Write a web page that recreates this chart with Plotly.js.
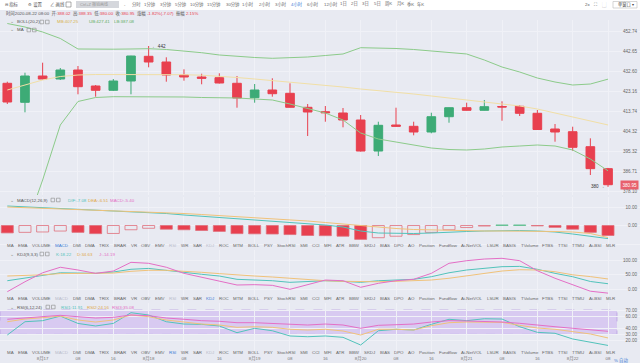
<!DOCTYPE html>
<html><head><meta charset="utf-8">
<script src="https://cdn.plot.ly/plotly-3.0.1.min.js"></script>
<style>html,body{margin:0;padding:0;background:#fff}#chart{width:640px;height:363px}</style>
</head><body><div id="chart"></div>
<script>
// ---- data (4h candles, 2020-08-16 16:00 .. 2020-08-22 08:00) ----
const opens  = [425.59,417.22,428.80,427.48,431.44,424.40,422.51,426.60,437.47,434.96,429.24,428.36,428.05,425.59,419.25,422.64,421.18,415.02,413.08,412.51,409.43,395.78,407.23,406.66,404.15,410.88,414.85,413.70,415.37,415.46,412.38,405.47,404.28,397.68,388.02];
const highs  = [426.29,430.25,434.66,432.32,433.20,424.84,427.48,437.70,442.00,437.03,431.75,429.80,429.99,428.80,425.28,427.79,425.59,416.47,415.59,414.71,411.63,408.68,414.85,408.68,412.64,414.93,417.05,418.24,417.66,415.90,413.83,407.67,406.48,401.37,388.35];
const lows   = [416.47,412.82,427.26,427.04,420.74,419.69,422.20,420.74,432.63,426.29,426.73,425.15,425.50,414.85,417.05,419.69,414.93,402.39,408.68,406.22,395.56,393.58,406.57,402.70,403.58,408.24,413.61,413.61,409.12,411.19,405.03,399.88,395.92,385.22,380.00];
const closes = [417.35,428.80,427.48,431.44,424.09,422.51,426.60,437.60,434.96,429.24,428.36,427.79,425.72,419.12,422.64,421.01,415.02,412.95,412.64,409.43,395.78,407.10,406.66,404.15,410.88,414.85,413.70,415.29,415.15,412.38,405.25,404.15,397.41,388.02,380.95];
const bollUp  = [451.91,450.37,448.17,445.31,440.69,440.55,440.60,440.69,440.82,440.47,439.81,439.06,438.05,437.39,436.95,436.59,436.72,437.16,437.82,438.49,441.26,441.13,440.91,440.47,439.81,439.15,438.49,435.84,432.76,430.56,427.92,426.16,424.84,425.28,427.41];
const bollMid = [422.64,424.84,427.04,428.58,429.24,429.46,429.46,429.68,429.68,429.55,429.37,429.15,428.80,428.14,427.48,426.82,426.16,425.50,424.84,423.96,423.08,422.42,421.76,420.88,420.00,419.12,418.24,417.35,416.47,415.59,414.27,412.51,410.75,408.99,407.25];
const bollLow = [334.60,361.01,383.02,407.23,417.58,419.34,419.69,419.69,419.69,419.56,419.56,419.34,419.25,419.12,418.68,418.24,416.47,414.58,412.51,409.43,403.71,401.07,399.75,398.43,397.11,396.45,396.23,396.67,397.55,397.99,398.43,397.99,396.23,392.27,387.08];
const macdDif  = [10.54,10.11,9.68,9.24,8.81,8.38,7.84,7.41,7.03,6.49,5.68,5.03,4.38,3.73,3.08,2.43,1.73,1.08,0.27,-0.81,-2.97,-4.05,-4.32,-4.32,-4.05,-3.51,-3.24,-2.97,-2.70,-2.70,-2.97,-3.51,-4.59,-5.68,-7.08];
const macdDea  = [10.00,9.68,9.35,9.03,8.70,8.38,8.00,7.62,7.24,6.86,6.49,5.95,5.41,4.86,4.32,3.78,3.14,2.43,1.62,0.81,-0.27,-1.08,-1.62,-2.16,-2.43,-2.70,-2.97,-2.97,-2.97,-2.97,-2.97,-3.24,-3.51,-4.32,-6.51];
const macdHist = [-4.0,-3.7,-3.5,-3.0,-3.7,-4.4,-4.3,-2.3,-1.5,-2.0,-2.3,-2.7,-3.2,-4.4,-4.5,-4.6,-4.9,-5.4,-5.5,-5.8,-7.5,-6.6,-5.8,-4.9,-3.7,-2.3,-1.1,-0.3,0.3,0.3,-0.2,-1.0,-2.0,-3.7,-5.4];
const kdjK = [28.6,37,48,56,55,54,58.6,68,71,65.5,57.6,50.7,44.8,33.4,32,28.6,23,26.5,28.6,26.5,23,28.6,31,33.4,42.4,56,65.5,72.4,77,78,68,54,42.4,26,18.22];
const kdjD = [44.8,46,49,53,54,54,55,61,64.5,64.5,62,57.6,53,48,44.8,41.4,37,32,28.6,26.5,25,25,26.5,27.6,31,37,46,54,62,66.5,65.5,59.6,49,42.8,34.63];
const kdjJ = [-9.3,25,56,75,65.5,54,62,92,88.6,75,54,40,28.6,13.8,15,12.7,-1,13.8,31,28.6,5.9,19.7,28.6,33.4,54,88.6,97.6,103.4,105.9,97.6,63,37,13.8,-7.6,-14.19];
const rsi1 = [29,50.8,52.5,60,48,43.8,48,65.6,61.8,50.8,47,46.5,43.8,32.8,40,36,27.4,26.2,27.4,25.2,12.6,36,38.4,37.2,46.5,54.8,52.5,55.7,55.2,42.6,33.4,31.8,22.5,17,11.91];
const rsi2 = [50.8,55.2,57.4,60,53.6,50.3,53.6,61.8,59,53.6,50.3,47,45.4,41.6,42.6,41.6,38.4,37.2,38.4,35.6,29,38.4,38.4,37.2,44.3,49.2,50.3,50.3,49.8,44.9,40.5,38.4,34.4,30.7,24.16];
const rsi3 = [54.8,56.9,59,61.3,59,56.9,58,61.8,60.7,56.9,54.8,52.5,51.5,49.2,49.2,48.2,46.6,45.4,47,45.4,40,44.9,45.9,47,50.3,52.5,52,51.5,50.3,48.2,44.9,42.6,40,37.2,35.08];
const dateTicks  = ['8月17','08','16','8月18','08','16','8月19','08','16','8月20','08','16','8月21','08','16','8月22','08'];
const priceTicks = ['452.74','442.65','432.60','423.16','413.74','404.32','395.32','386.71','378.10'];
const macdTicks = ['10.00','0.00','-10.00'];
const kdjTicks  = ['100.00','50.00','0.00'];
const rsiTicks  = ['70.00','60.00','40.00','30.00','20.00','0.00'];
const indicatorTabs = ['MA','EMA','VOLUME','MACD','DMI','DMA','TRIX','BRAR','VR','OBV','EMV','RSI','WR','SAR','KDJ','ROC','MTM','BOLL','PSY','StochRSI','SMI','CCI','MFI','ATR','BBW','SKDJ','BIAS','DPO','AO','Position','Fundflow','Ai-NetVOL','LSUR','BASIS','TVolume','FTBS','TTSI','TTMU','Ai-BSI','MLR'];
const periods = ['分时','1分钟','3分钟','5分钟','10分钟','15分钟','30分钟','1小时','2小时','3小时','4小时','6小时','12小时','1日','2日','3日','5日','周K','月K','季K','年K'];

// ---- drawing ----
const W = 640, H = 363;
const FONT = 'Liberation Sans, Noto Sans CJK SC, sans-serif';
const RED = '#e8404f', GREEN = '#3dab76';
const C_TEAL = '#52c3bb', C_YEL = '#f0c27a', C_PINK = '#e46fc6';
const BG = '#e8eaf2', GRID = '#f0f1f7';
const idx = opens.map((_, i) => i);
const py = p => 1 - p / H;
const dom = (top, bot) => [py(bot), py(top)];

const traces = [];
traces.push({type:'candlestick', x: idx, open: opens, high: highs, low: lows, close: closes,
  xaxis:'x', yaxis:'y', whiskerwidth:0, hoverinfo:'skip',
  increasing:{line:{color:GREEN,width:1}, fillcolor:GREEN},
  decreasing:{line:{color:RED,width:1}, fillcolor:RED}});
traces.push({type:'scatter', mode:'lines', x: idx, y: bollUp, yaxis:'y', line:{color:'#8ccb8a', width:1}, hoverinfo:'skip'});
traces.push({type:'scatter', mode:'lines', x: idx, y: bollMid, yaxis:'y', line:{color:'#f1dfa6', width:1}, hoverinfo:'skip'});
traces.push({type:'scatter', mode:'lines', x: idx, y: bollLow, yaxis:'y', line:{color:'#8ccb8a', width:1}, hoverinfo:'skip'});

const histFill = macdHist.map((v, i) => {
  const prev = i ? macdHist[i-1] : 0;
  if (v >= 0) return '#5fbf8f';
  return v < prev || i === 0 ? RED : 'rgba(0,0,0,0)';
});
const histLine = macdHist.map(v => v >= 0 ? '#5fbf8f' : '#e0707c');
traces.push({type:'bar', x: idx, y: macdHist, yaxis:'y2', width:0.68,
  marker:{color: histFill, line:{color: histLine, width:0.8}}, hoverinfo:'skip'});
traces.push({type:'scatter', mode:'lines', x: idx, y: macdDif, yaxis:'y2', line:{color:C_TEAL, width:1}, hoverinfo:'skip'});
traces.push({type:'scatter', mode:'lines', x: idx, y: macdDea, yaxis:'y2', line:{color:C_YEL, width:1}, hoverinfo:'skip'});

traces.push({type:'scatter', mode:'lines', x: idx, y: kdjK, yaxis:'y3', line:{color:C_TEAL, width:1}, hoverinfo:'skip'});
traces.push({type:'scatter', mode:'lines', x: idx, y: kdjD, yaxis:'y3', line:{color:C_YEL, width:1}, hoverinfo:'skip'});
traces.push({type:'scatter', mode:'lines', x: idx, y: kdjJ, yaxis:'y3', line:{color:C_PINK, width:1}, hoverinfo:'skip'});

traces.push({type:'scatter', mode:'lines', x: idx, y: rsi1, yaxis:'y4', line:{color:C_TEAL, width:1}, hoverinfo:'skip'});
traces.push({type:'scatter', mode:'lines', x: idx, y: rsi2, yaxis:'y4', line:{color:C_YEL, width:1}, hoverinfo:'skip'});
traces.push({type:'scatter', mode:'lines', x: idx, y: rsi3, yaxis:'y4', line:{color:C_PINK, width:1}, hoverinfo:'skip'});

const tickFont = {family: FONT, size: 4.6, color: '#666'};
function yax(domain, range, texts, vals) {
  return {domain, range, side:'right', ticklabelposition:'inside', anchor:'x',
    tickvals: vals || texts.map(Number), ticktext: texts, tickfont: tickFont,
    showgrid:true, gridcolor: GRID, gridwidth:1, zeroline:false, showline:false, ticks:'', fixedrange:true};
}
// main price axis: pixel rows 20..195 ; labels evenly spaced between rows 31 and 191.5
const mainTop = 20, mainBot = 195, mainRange = [376.42, 453.45];
const valAt = yy => mainRange[1] - (yy - mainTop) / (mainBot - mainTop) * (mainRange[1] - mainRange[0]);
const priceTickVals = priceTicks.map((_, k) => valAt(31 + k * (191.5 - 31) / (priceTicks.length - 1)));

const ann = [];
function T(x, y, text, color, size, anchor) {
  ann.push({xref:'paper', yref:'paper', x: x / W, y: py(y), text, showarrow:false,
    xanchor: anchor || 'left', yanchor:'middle', font:{family: FONT, size: size || 4.4, color: color || '#555'}});
}
const shapes = [];
function R(x0, y0, x1, y1, fill, line) {
  shapes.push({type:'rect', xref:'paper', yref:'paper', x0: x0/W, x1: x1/W, y0: py(y1), y1: py(y0),
    fillcolor: fill || 'rgba(0,0,0,0)', line:{color: line || 'rgba(0,0,0,0)', width: 0.6}, layer:'above'});
}

// toolbar
R(0, 0, 640, 10, '#ffffff');
T(3, 4.5, '⊟ 指标', '#555'); T(26, 4.5, '⚙ 设置', '#555'); T(48, 4.5, '∠ 画线', '#555');
R(66, 2, 71, 7, null, '#777');
R(76, 1, 119, 8, '#d5d7dc');
T(78, 4.5, 'Ctrl+Z 撤销画线', '#999', 4);
T(122, 4.5, '-', '#555');
const periodX = [130,142,158,173,188,205,224,240,257,273,289,305,322,338,349,360,372,383,395,405,415];
periods.forEach((p, k) => T(periodX[k], 4.5, p, p === '4小时' ? '#3a7bd5' : '#666', 4.3));
T(583, 4.5, '2x', '#555'); T(592, 4.5, '⛶', '#555'); T(600, 4.5, '⬚', '#555');
R(613, 1.5, 637, 8, '#fff', '#bbb'); T(616, 4.8, '单窗口 ▾', '#444', 4.2);

// info row: one flowing line, font size fitted to the reference width
const n = closes.length - 1;
const prev = closes[n-1];
const chg = closes[n] - prev;
const pct = chg / prev * 100;
const amp = (highs[n] - lows[n]) / prev * 100;
const cv = document.createElement('canvas').getContext('2d');
function fitSize(plain, width) { cv.font = '10px "Liberation Sans", "Noto Sans CJK SC"'; return 10 * width / cv.measureText(plain).width; }
const r = s => `<span style="color:${RED}">${s}</span>`;
const infoParts = [['时间2020-08-22 08:00', ''], ['开:', opens[n].toFixed(2)], ['高:', highs[n].toFixed(2)], ['低:', lows[n].toFixed(2)],
  ['收:', closes[n].toFixed(2)], ['涨幅 ', pct.toFixed(2) + '%(' + chg.toFixed(2) + ')'], ['振幅 ', amp.toFixed(2) + '%']];
const infoPlain = infoParts.map(p => p[0] + p[1]).join('  ');
const infoHtml = infoParts.map(p => p[0] + (p[1] ? r(p[1]) : '')).join('  ');
T(4, 14, infoHtml, '#555', fitSize(infoPlain, 193));

function header(y, name, iconX, items) {
  T(8, y, '⌄', '#888', 4.5);
  T(15, y, name, '#555');
  R(iconX, y-1.8, iconX+3.6, y+1.8, null, '#888'); R(iconX+5.5, y-1.8, iconX+9.1, y+1.8, null, '#888');
  items.forEach(([t, c, x]) => T(x, y, t, c));
}
header(22, 'BOLL(20,2)', 40, [['MB:' + bollMid[n].toFixed(2), '#d8b34a', 55], ['UB:' + bollUp[n].toFixed(2), '#5fae5f', 87], ['LB:' + bollLow[n].toFixed(2), '#5fae5f', 112]]);
header(30, 'MA', 27, []);
header(200, 'MACD(12,26,9)', 51, [['DIF:' + macdDif[n].toFixed(2), C_TEAL, 66], ['DEA:' + macdDea[n].toFixed(2), '#e0a84a', 86], ['MACD:' + macdHist[n].toFixed(2), C_PINK, 108]]);
header(254, 'KDJ(9,3,3)', 40, [['K:' + kdjK[n].toFixed(2), C_TEAL, 54], ['D:' + kdjD[n].toFixed(2), '#e0a84a', 75], ['J:' + kdjJ[n].toFixed(2), C_PINK, 97]]);
header(307, 'RSI(6,12,24)', 46, [['RSI1:' + rsi1[n].toFixed(2), C_TEAL, 59], ['RSI2:' + rsi2[n].toFixed(2), '#e0a84a', 85], ['RSI3:' + rsi3[n].toFixed(2), C_PINK, 110]]);

// indicator tab rows, laid out by measured text width
cv.font = '4.4px "Liberation Sans"';
const widths = indicatorTabs.map(t => cv.measureText(t).width);
const total = widths.reduce((a, b) => a + b, 0);
const gap = (613 - 5 - total) / (indicatorTabs.length - 1);
function tabRow(y, active, dim) {
  let x = 5;
  indicatorTabs.forEach((t, k) => {
    const c = t === active ? '#3a7bd5' : (dim.includes(t) ? '#b8bccb' : '#666');
    T(x, y, t, c, 4.4);
    x += widths[k] + gap;
  });
}
tabRow(245, 'MACD', ['RSI','KDJ']);
tabRow(298, 'KDJ', ['MACD','RSI']);
tabRow(352, 'RSI', ['MACD','KDJ']);
T(612, 360, '% 自动', '#3a7bd5', 4.4);

// extreme labels
const hiIdx = highs.indexOf(Math.max(...highs));
const loIdx = lows.indexOf(Math.min(...lows));
ann.push({xref:'x', yref:'y', x: hiIdx + 0.05, y: highs[hiIdx], text:'← ' + Math.round(highs[hiIdx]), showarrow:false,
  xanchor:'left', yanchor:'middle', font:{family:FONT, size:4.6, color:'#333'}});
ann.push({xref:'x', yref:'y', x: loIdx - 0.05, y: lows[loIdx], text: Math.round(lows[loIdx]) + ' →', showarrow:false,
  xanchor:'right', yanchor:'middle', font:{family:FONT, size:4.6, color:'#333'}});
// current price tag
ann.push({xref:'paper', yref:'y', x: 0.998, y: closes[n], text: closes[n].toFixed(2), showarrow:false,
  xanchor:'right', yanchor:'middle', bgcolor: '#e8606c', borderpad:1.5, font:{family:FONT, size:4.6, color:'#fff'}});

// RSI band 30-70
shapes.push({type:'rect', xref:'paper', yref:'y4', x0:0, x1:617/W, y0:30, y1:70, fillcolor:'rgba(190,150,240,0.38)',
  line:{color:'#b49ae0', width:0.7, dash:'dash'}, layer:'below'});

const layout = {
  width: W, height: H, margin:{l:0, r:0, t:0, b:0},
  paper_bgcolor: BG, plot_bgcolor: BG, showlegend:false, bargap:0.3,
  xaxis:{domain:[0,1], range:[-0.413, 35.81], anchor:'y4', tickvals: dateTicks.map((_, k) => 2 + 2*k), ticktext: dateTicks,
    tickfont:{family:FONT, size:4.4, color:'#777'}, showgrid:true, gridcolor: GRID, zeroline:false, showline:false, ticks:'',
    ticklabelstandoff: 2, rangeslider:{visible:false}, fixedrange:true},
  yaxis: yax(dom(mainTop, mainBot), mainRange, priceTicks, priceTickVals),
  yaxis2: yax(dom(197, 246), [-11.08, 15.41], macdTicks),
  yaxis3: yax(dom(250, 296), [-24.1, 134.5], kdjTicks),
  yaxis4: yax(dom(303, 353), [-0.5, 81.5], rsiTicks),
  annotations: ann, shapes
};
Plotly.newPlot('chart', traces, layout, {staticPlot:true, displayModeBar:false});
</script></body></html>
